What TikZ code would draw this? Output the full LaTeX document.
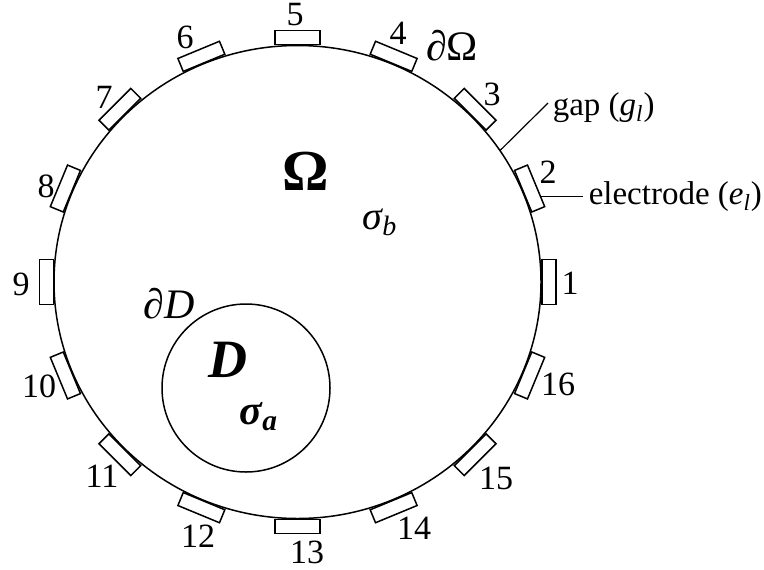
\documentclass[tikz,border=0pt]{standalone}
\usepackage{fontspec}
\setmainfont{Liberation Serif}
\usepackage{tikz}
\usetikzlibrary{arrows.meta, calc, positioning}

\begin{document}
\begin{tikzpicture}[x=0.5pt, y=0.5pt, line width=0.75pt,
    electrode/.style={draw, rectangle, inner sep=0pt, minimum width=22.5pt, minimum height=7pt, anchor=south},
    num/.style={inner sep=0pt, font=\fontsize{17}{20}\selectfont},
    lbl/.style={inner sep=0pt, anchor=west, font=\fontsize{16.5}{19}\selectfont}]
  \useasboundingbox (0,0) rectangle (764,569);
  \coordinate (C) at (297.5,287);
  \draw (C) ellipse (243.5 and 236.5);

  % electrodes and their numbers
  \foreach \i/\lx/\ly in {1/570/286, 2/548/397, 3/492/475, 4/398/536, 5/295/554, 6/185/532, 7/104/472, 8/46/383,
                          9/21/285, 10/39/183, 11/102/93, 12/198/33, 13/307/17, 14/414/41, 15/496/91, 16/558/185} {
    \pgfmathsetmacro{\a}{(\i-1)*22.5}
    \node[electrode, rotate=\a-90] (e\i) at ($(C)+(\a:243.5 and 236.5)$) {};
    \node[num] (n\i) at (\lx,\ly) {\i};
  }

  \node[font=\fontsize{21}{24}\selectfont] (dOmega) at (452,523) {∂Ω};
  \node[font=\fontsize{29}{32}\selectfont\bfseries] (Omega) at (306,398) {Ω};
  \node[font=\fontsize{20}{24}\selectfont\itshape] (sigb) at (380,347) {σ\textsubscript{b}};

  % inclusion D
  \node[draw, circle, inner sep=0pt, minimum size=84pt] (incl) at (246,181) {};
  \node[font=\fontsize{21}{24}\selectfont\itshape] (dD) at (169,265) {∂D};
  \node[font=\fontsize{27}{30}\selectfont\bfseries\itshape] (Dlbl) at (228,209) {D};
  \node[font=\fontsize{21}{24}\selectfont\bfseries\itshape] (siga) at (259,152) {σ\textsubscript{a}};

  % gap / electrode annotations
  \coordinate (gap) at ($(C)+(33.75:243.5 and 236.5)$);
  \node[lbl] (gaplbl) at (552,461) {gap (\textit{g}\textsubscript{\textit{l}})};
  \draw[line width=0.6pt] (gap) -- ([yshift=2.5pt, xshift=-2pt]gaplbl.west);
  \coordinate (etip) at ($(e2.north)!0.5!(e2.north east)$);
  \node[lbl] (elbl) at (588,372) {electrode (\textit{e}\textsubscript{\textit{l}})};
  \draw[line width=0.6pt] (etip) -- ([xshift=-2.5pt]etip -| elbl.west);
\end{tikzpicture}
\end{document}
